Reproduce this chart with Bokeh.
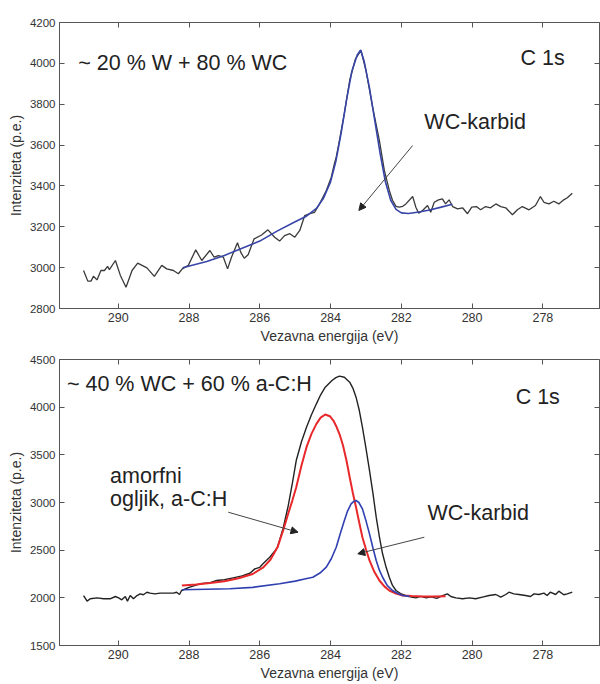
from bokeh.plotting import figure
from bokeh.models import LinearAxis, Range1d, Label, Arrow, NormalHead, FixedTicker
from bokeh.layouts import column
from bokeh.embed import file_html
from bokeh.resources import INLINE

# ---------------- data ----------------
x_ticks = [278, 280, 282, 284, 286, 288, 290]
top_y_ticks = [2800, 3000, 3200, 3400, 3600, 3800, 4000, 4200]
bot_y_ticks = [1500, 2000, 2500, 3000, 3500, 4000, 4500]

# Top panel: measured C 1s spectrum (~20 % W + 80 % WC)
top_energy = [290.98, 290.86, 290.77, 290.70, 290.60, 290.49, 290.39, 290.30, 290.25, 290.08,
              289.94, 289.78, 289.61, 289.45, 289.19, 288.98, 288.77, 288.63, 288.44, 288.30,
              288.19, 288.02, 287.81, 287.64, 287.41, 287.29, 287.17, 287.03, 286.91, 286.80,
              286.63, 286.54, 286.44, 286.33, 286.16, 285.95, 285.77, 285.58, 285.44, 285.30,
              285.15, 285.01, 284.87, 284.73, 284.59, 284.45, 284.31, 284.12, 283.98, 283.89,
              283.84, 283.75, 283.61, 283.46, 283.30, 283.14, 283.00, 282.81, 282.62, 282.48,
              282.34, 282.25, 282.15, 282.06, 281.96, 281.87, 281.68, 281.59, 281.51, 281.40,
              281.26, 281.17, 281.07, 280.95, 280.84, 280.75, 280.65, 280.55, 280.41, 280.27,
              280.13, 280.01, 279.88, 279.76, 279.62, 279.48, 279.33, 279.19, 279.05, 278.86,
              278.72, 278.58, 278.39, 278.21, 278.07, 277.97, 277.83, 277.69, 277.55, 277.41,
              277.31, 277.17]
top_counts = [2986, 2934, 2934, 2958, 2940, 2986, 2986, 3006, 2990, 3035,
              2962, 2904, 2986, 3022, 2999, 2957, 3011, 2994, 2986, 2970,
              2994, 3011, 3087, 3035, 3084, 3051, 3059, 3051, 2994, 3051,
              3122, 3076, 3046, 3063, 3141, 3160, 3185, 3149, 3130, 3157,
              3166, 3149, 3182, 3255, 3264, 3271, 3312, 3378, 3443, 3510,
              3541, 3622, 3755, 3916, 4020, 4063, 3965, 3785, 3622, 3476,
              3378, 3330, 3300, 3296, 3300, 3312, 3348, 3296, 3267, 3280,
              3304, 3271, 3320, 3332, 3337, 3312, 3332, 3299, 3288, 3293,
              3264, 3296, 3299, 3283, 3299, 3293, 3312, 3299, 3293, 3259,
              3283, 3299, 3283, 3304, 3348, 3320, 3312, 3325, 3312, 3332,
              3342, 3364]

# Top panel: WC-karbid fit
top_fit_energy = [288.18, 287.5, 287.0, 286.5, 286.0, 285.5, 285.0, 284.7, 284.4, 284.2,
                  284.0, 283.85, 283.7, 283.55, 283.4, 283.25, 283.15, 283.05, 282.9, 282.75,
                  282.6, 282.45, 282.3, 282.15, 282.0, 281.8, 281.5, 281.2, 280.9, 280.56]
top_fit = [2999, 3030, 3060, 3095, 3130, 3180, 3225, 3250, 3290, 3340,
           3420, 3520, 3660, 3820, 3960, 4040, 4065, 4010, 3880, 3720,
           3560, 3420, 3330, 3285, 3268, 3265, 3272, 3282, 3295, 3310]

# Bottom panel: measured C 1s spectrum (~40 % WC + 60 % a-C:H)
bot_energy = [290.98, 290.88, 290.79, 290.60, 290.41, 290.23, 290.08, 289.99, 289.90, 289.80,
              289.74, 289.66, 289.57, 289.47, 289.38, 289.29, 289.19, 289.10, 288.96, 288.82,
              288.63, 288.44, 288.35, 288.27, 288.21, 288.00, 287.69, 287.40, 287.22, 287.00,
              286.75, 286.50, 286.28, 286.14, 286.00, 285.91, 285.72, 285.58, 285.50, 285.34,
              285.20, 285.08, 284.97, 284.82, 284.68, 284.54, 284.40, 284.28, 284.15, 283.96,
              283.85, 283.75, 283.61, 283.46, 283.37, 283.28, 283.19, 283.10, 283.00, 282.90,
              282.80, 282.71, 282.62, 282.53, 282.43, 282.34, 282.25, 282.15, 282.00, 281.87,
              281.75, 281.59, 281.45, 281.30, 281.15, 281.00, 280.85, 280.70, 280.60, 280.46,
              280.27, 280.08, 279.90, 279.71, 279.52, 279.33, 279.19, 279.05, 278.96, 278.82,
              278.68, 278.49, 278.35, 278.25, 278.11, 277.97, 277.88, 277.79, 277.64, 277.55,
              277.41, 277.31, 277.17]
bot_counts = [2024, 1965, 1990, 2000, 1990, 1990, 2014, 2000, 1979, 2014,
              1965, 2024, 1990, 2024, 2042, 2032, 2059, 2049, 2042, 2049,
              2049, 2049, 2059, 2035, 2077, 2110, 2147, 2160, 2182, 2190,
              2210, 2230, 2258, 2304, 2320, 2357, 2426, 2490, 2530, 2730,
              2960, 3200, 3440, 3640, 3790, 3920, 4035, 4130, 4210, 4280,
              4310, 4325, 4314, 4262, 4200, 4105, 3970, 3790, 3570, 3336,
              3090, 2846, 2640, 2462, 2320, 2216, 2130, 2077, 2040, 2024,
              2010, 2000, 2015, 2000, 2010, 1995, 2020, 2042, 2014, 2000,
              1990, 2000, 1990, 2007, 2024, 2035, 2007, 2035, 2059, 2042,
              2035, 2024, 2014, 2042, 2035, 2049, 2024, 2059, 2035, 2070,
              2032, 2042, 2059]

# Bottom panel: amorphous carbon (a-C:H) component
bot_red_energy = [288.2, 287.8, 287.4, 287.0, 286.6, 286.2, 285.9, 285.7, 285.5, 285.34,
                  285.2, 285.08, 284.97, 284.82, 284.68, 284.54, 284.40, 284.28, 284.15, 284.02,
                  283.92, 283.84, 283.74, 283.65, 283.55, 283.46, 283.37, 283.28, 283.19, 283.10,
                  283.00, 282.90, 282.76, 282.62, 282.48, 282.34, 282.15, 281.96, 281.7, 281.4,
                  281.1, 280.75]
bot_red = [2130, 2140, 2155, 2175, 2205, 2250, 2320, 2400, 2530, 2706,
           2880, 3020, 3160, 3390, 3580, 3720, 3825, 3890, 3923, 3905,
           3860, 3800, 3710, 3600, 3440, 3265, 3100, 2950, 2790, 2636,
           2510, 2392, 2270, 2182, 2120, 2077, 2045, 2024, 2018, 2015,
           2015, 2017]

# Bottom panel: WC-karbid component
bot_blue_energy = [288.2, 287.5, 286.85, 286.2, 285.44, 285.0, 284.7, 284.5, 284.3, 284.12,
                   283.98, 283.84, 283.72, 283.61, 283.52, 283.42, 283.35, 283.28, 283.20, 283.10,
                   283.00, 282.90, 282.80, 282.71, 282.62, 282.53, 282.40, 282.25, 282.10, 281.96,
                   281.77]
bot_blue = [2085, 2090, 2095, 2110, 2147, 2175, 2200, 2216, 2260, 2322,
            2410, 2531, 2680, 2811, 2910, 2986, 3010, 3021, 3000, 2934,
            2810, 2671, 2520, 2392, 2290, 2216, 2130, 2077, 2045, 2024,
            2015]

# ---------------- styling helpers ----------------
FONT = "Liberation Sans"
AX_COL = "#555555"
TXT_COL = "#333333"


def style_axis(ax, show_labels=True, xlab=True, ticks=None):
    ax.major_tick_in = 5
    ax.major_tick_out = 0
    ax.minor_tick_line_color = None
    ax.major_tick_line_color = AX_COL
    ax.axis_line_color = AX_COL
    ax.major_label_text_font = FONT
    ax.major_label_text_color = TXT_COL
    ax.axis_label_text_font = FONT
    ax.axis_label_text_font_style = "normal"
    ax.axis_label_text_color = TXT_COL
    ax.axis_label_text_font_size = "14px"
    if show_labels:
        ax.major_label_text_font_size = "12.5px" if xlab else "11.5px"
        ax.major_label_standoff = 4
        ax.axis_label_standoff = 3
    else:
        ax.major_label_overrides = {t: "" for t in ticks}
        ax.major_label_text_font_size = "1px"
        ax.major_label_standoff = 0
        ax.axis_line_color = None


def make_fig(height, ylo, yhi, yticks, b_top, b_bottom):
    p = figure(width=600, height=height, output_backend="svg", toolbar_location=None,
               x_range=Range1d(291.66, 276.4), y_range=Range1d(ylo, yhi),
               min_border_left=59, min_border_right=1, min_border_top=b_top,
               min_border_bottom=b_bottom,
               x_axis_label="Vezavna energija (eV)", y_axis_label="Intenziteta (p.e.)")
    p.grid.visible = False
    p.outline_line_color = AX_COL
    p.background_fill_color = "white"
    p.border_fill_color = "white"
    p.xaxis.ticker = FixedTicker(ticks=x_ticks)
    p.yaxis.ticker = FixedTicker(ticks=yticks)
    style_axis(p.xaxis[0], True, True)
    style_axis(p.yaxis[0], True, False)
    top_ax = LinearAxis(ticker=FixedTicker(ticks=x_ticks))
    right_ax = LinearAxis(ticker=FixedTicker(ticks=yticks))
    style_axis(top_ax, False, ticks=x_ticks)
    style_axis(right_ax, False, ticks=yticks)
    p.add_layout(top_ax, "above")
    p.add_layout(right_ax, "right")
    return p


def add_label(p, x, y, text, size="21.5px"):
    p.add_layout(Label(x=x, y=y, text=text, text_font=FONT, text_font_size=size,
                       text_color="#222222", text_align="left", text_baseline="alphabetic"))


def add_arrow(p, xs, ys, xe, ye):
    p.add_layout(Arrow(end=NormalHead(size=7, fill_color="#222222", line_color="#222222"),
                       x_start=xs, y_start=ys, x_end=xe, y_end=ye,
                       line_color="#444444", line_width=1))


# ---------------- top panel ----------------
p1 = make_fig(348, 2800, 4200, top_y_ticks, 22, 40)
p1.line(top_energy, top_counts, line_color="#3a3a3a", line_width=1.3)
p1.line(top_fit_energy, top_fit, line_color="#3845a8", line_width=1.6)
add_label(p1, 291.13, 4000, "~ 20 % W + 80 % WC")
add_label(p1, 278.63, 4027, "C 1s")
add_label(p1, 281.35, 3712, "WC-karbid")
add_arrow(p1, 281.68, 3598, 283.20, 3280)

# ---------------- bottom panel ----------------
p2 = make_fig(336, 1500, 4500, bot_y_ticks, 11, 39)
p2.line(bot_energy, bot_counts, line_color="#222222", line_width=1.4)
p2.line(bot_red_energy, bot_red, line_color="#e8282a", line_width=2)
p2.line(bot_blue_energy, bot_blue, line_color="#3040b0", line_width=1.6)
add_label(p2, 291.45, 4245, "~ 40 % WC + 60 % a-C:H")
add_label(p2, 278.77, 4105, "C 1s")
add_label(p2, 290.23, 3283, "amorfni")
add_label(p2, 290.23, 3039, "ogljik, a-C:H")
add_label(p2, 281.26, 2888, "WC-karbid")
add_arrow(p2, 286.89, 2898, 284.92, 2688)
add_arrow(p2, 281.35, 2636, 283.23, 2462)

layout = column(p1, p2, spacing=0)
open("out.html", "w").write(file_html(layout, INLINE))
